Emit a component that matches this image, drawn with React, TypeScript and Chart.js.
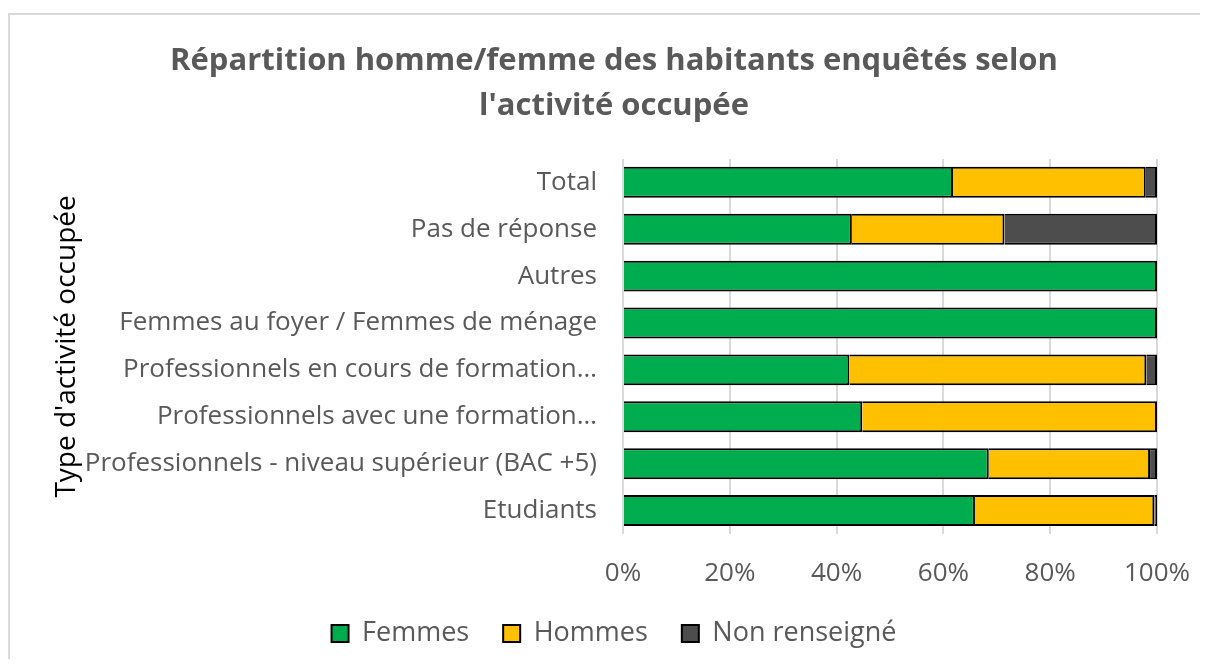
import React, { useEffect, useRef } from "react";
import { Chart, registerables } from "chart.js";

Chart.register(...registerables);

const categories = [
  "Total",
  "Pas de réponse",
  "Autres",
  "Femmes au foyer / Femmes de ménage",
  "Professionnels en cours de formation…",
  "Professionnels avec une formation…",
  "Professionnels - niveau supérieur (BAC +5)",
  "Etudiants",
];

const femmes = [61.8, 42.86, 100, 100, 42.4, 44.8, 68.5, 65.9];
const hommes = [36.1, 28.57, 0, 0, 55.6, 55.2, 30.2, 33.6];
const nonRenseigne = [2.1, 28.57, 0, 0, 2.0, 0, 1.3, 0.5];

const xTicks = [0, 20, 40, 60, 80, 100];

const FONT = "'Open Sans', 'Noto Sans', sans-serif";

export default function App() {
  const canvasRef = useRef<HTMLCanvasElement | null>(null);

  useEffect(() => {
    const canvas = canvasRef.current;
    if (!canvas) return;
    const chart = new Chart(canvas, {
      type: "bar",
      data: {
        labels: categories,
        datasets: [
          { label: "Femmes", data: femmes, backgroundColor: "#00AD4E", borderColor: "#000000", borderWidth: 2 },
          { label: "Hommes", data: hommes, backgroundColor: "#FFC000", borderColor: "#000000", borderWidth: 2 },
          { label: "Non renseigné", data: nonRenseigne, backgroundColor: "#4D4D4D", borderColor: "#000000", borderWidth: 2 },
        ],
      },
      options: {
        indexAxis: "y",
        animation: false,
        responsive: false,
        maintainAspectRatio: false,
        datasets: { bar: { categoryPercentage: 0.66, barPercentage: 1 } },
        layout: { padding: { top: 20, left: 71, right: 51, bottom: 10 } },
        scales: {
          x: {
            stacked: true,
            min: 0,
            max: 100,
            afterBuildTicks: (scale: any) => {
              scale.ticks = xTicks.map((v) => ({ value: v }));
            },
            afterFit: (scale: any) => {
              scale.height = 52;
              scale.paddingLeft = 0;
              scale.paddingRight = 0;
            },
            ticks: {
              callback: (v: any) => v + "%",
              color: "#595959",
              font: { family: FONT, size: 26 },
              padding: 24,
            },
            grid: { color: "#D9D9D9", lineWidth: 2, drawTicks: false },
            border: { display: false },
          },
          y: {
            stacked: true,
            afterFit: (scale: any) => {
              scale.width = 623 - 71;
            },
            ticks: {
              color: "#595959",
              font: { family: FONT, size: 26 },
              padding: 26,
              autoSkip: false,
            },
            grid: { display: false, drawTicks: false },
            border: { display: false },
            title: {
              display: true,
              text: "Type d'activité occupée",
              color: "#000000",
              font: { family: FONT, size: 28 },
              padding: { top: -21, bottom: 0 },
            },
          },
        },
        plugins: {
          title: {
            display: true,
            text: ["Répartition homme/femme des habitants enquêtés selon", "l'activité occupée"],
            color: "#595959",
            font: { family: FONT, size: 31, weight: "bold", lineHeight: 1.45 },
            padding: { top: 19, bottom: 30 },
          },
          legend: {
            position: "bottom",
            labels: {
              color: "#595959",
              font: { family: FONT, size: 27 },
              boxWidth: 17,
              boxHeight: 17,
              padding: 34,
            },
          },
          tooltip: { enabled: false },
        },
      },
    });
    return () => chart.destroy();
  }, []);

  return (
    <div style={{ position: "relative", margin: -8, width: 1208, height: 667, overflow: "hidden", background: "#fff" }}>
      <div
        style={{
          position: "absolute",
          left: 8,
          top: 13,
          width: 1220,
          height: 680,
          border: "2px solid #D9D9D9",
        }}
      />
      <canvas ref={canvasRef} width={1208} height={667} style={{ position: "absolute", left: 0, top: 0 }} />
    </div>
  );
}
